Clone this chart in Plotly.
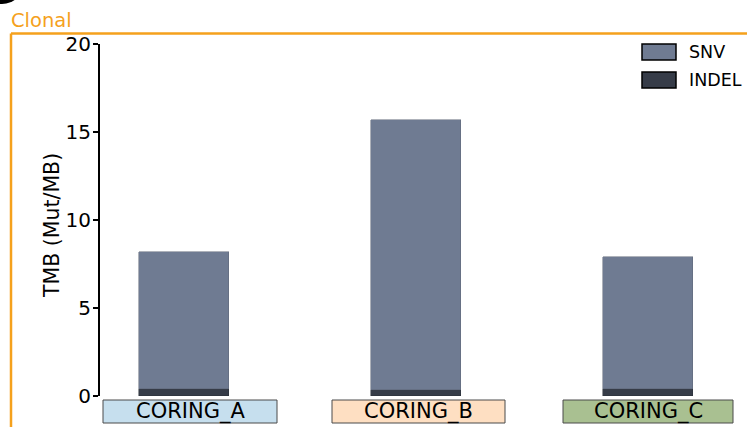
import plotly.graph_objs as go

# TMB per coring (clonal)
samples = ['CORING_A', 'CORING_B', 'CORING_C']
snv = [7.78, 15.34, 7.50]
indel = [0.40, 0.34, 0.40]
strip_colors = ['#c6dfee', '#fedfc2', '#a9c091']
y_ticks = [0, 5, 10, 15, 20]

W, H = 747, 427
SNV_COL = '#6f7b92'
INDEL_COL = '#363c48'
ORANGE = '#f5a11c'
FONT = 'DejaVu Sans'


def px(x):
    return x / W


def py(y):
    return (H - y) / H


# panel geometry in pixels (left, right), plus range shift so bars sit like the original
panels = [(100, 278, -0.028), (332, 505, -0.015), (563, 733, 0.0)]
strips = [(103, 277), (332, 505), (563, 733)]
bar_px = 90

fig = go.Figure()
layout_axes = {}
for i, (name, s, d) in enumerate(zip(samples, snv, indel)):
    ax = 'x' if i == 0 else 'x%d' % (i + 1)
    l, r, shift = panels[i]
    w = bar_px / (r - l)
    fig.add_trace(go.Bar(x=[name], y=[d], name='INDEL', xaxis=ax, yaxis='y',
                         marker=dict(color=INDEL_COL, line=dict(color='#2a2f38', width=0.5)),
                         width=w, showlegend=False))
    fig.add_trace(go.Bar(x=[name], y=[s], name='SNV', xaxis=ax, yaxis='y',
                         marker=dict(color=SNV_COL, line=dict(color='#5d6575', width=0.5)),
                         width=w, showlegend=False))
    key = 'xaxis' if i == 0 else 'xaxis%d' % (i + 1)
    layout_axes[key] = dict(domain=[px(l), px(r)], anchor='y', type='category',
                            range=[-0.5 - shift, 0.5 - shift], automargin=False,
                            showticklabels=False, showline=False, showgrid=False,
                            zeroline=False, ticks='')

shapes = []
annotations = []

# facet strips under each panel
for (l, r), name, col in zip(strips, samples, strip_colors):
    shapes.append(dict(type='rect', xref='paper', yref='paper',
                       x0=px(l), x1=px(r), y0=py(423), y1=py(400),
                       fillcolor=col, line=dict(color='#4a4a4a', width=1)))
    annotations.append(dict(xref='paper', yref='paper', x=px((l + r) / 2), y=py(411.5),
                            text=name, showarrow=False, xanchor='center', yanchor='middle',
                            font=dict(family=FONT, size=21, color='black')))

# legend drawn by hand (big outlined swatches)
for label, col, yc in [('SNV', SNV_COL, 52), ('INDEL', INDEL_COL, 80)]:
    shapes.append(dict(type='rect', xref='paper', yref='paper',
                       x0=px(642), x1=px(676), y0=py(yc + 8), y1=py(yc - 8),
                       fillcolor=col, line=dict(color='black', width=1.5)))
    annotations.append(dict(xref='paper', yref='paper', x=px(687), y=py(yc),
                            text=label, showarrow=False, xanchor='left', yanchor='middle',
                            font=dict(family=FONT, size=17.5, color='black')))

# y axis title
annotations.append(dict(xref='paper', yref='paper', x=px(52), y=py(226),
                        text='TMB (Mut/MB)', textangle=-90, showarrow=False,
                        xanchor='center', yanchor='middle',
                        font=dict(family=FONT, size=20.5, color='black')))

# orange "Clonal" frame
shapes.append(dict(type='line', xref='paper', yref='paper', x0=px(11), x1=px(760),
                   y0=py(33.5), y1=py(33.5), line=dict(color=ORANGE, width=2.5)))
shapes.append(dict(type='line', xref='paper', yref='paper', x0=px(11), x1=px(11),
                   y0=py(33.5), y1=py(440), line=dict(color=ORANGE, width=2.5)))
annotations.append(dict(xref='paper', yref='paper', x=px(9), y=py(20), text='Clonal',
                        showarrow=False, xanchor='left', yanchor='middle',
                        font=dict(family=FONT, size=19.5, color=ORANGE)))

# cropped panel badge at the top left corner
shapes.append(dict(type='circle', xref='paper', yref='paper',
                   x0=px(-20), x1=px(24), y0=py(4), y1=py(-40),
                   fillcolor='black', line=dict(color='black', width=0)))

layout_s = go.Layout(
    width=W, height=H, autosize=False,
    margin=dict(l=0, r=0, t=0, b=0, pad=0, autoexpand=False),
    paper_bgcolor='white', plot_bgcolor='white',
    barmode='stack', bargap=0,
    showlegend=False,
    font=dict(family=FONT, size=20, color='black'),
    yaxis=dict(domain=[py(396), py(44)], range=[0, 20], tickvals=y_ticks,
               automargin=False,
               showgrid=False, zeroline=False, showline=True, linecolor='black',
               linewidth=2, ticks='outside', ticklen=5, tickwidth=2, tickcolor='black',
               ticklabelstandoff=-2,
               tickfont=dict(family=FONT, size=20, color='black')),
    shapes=shapes,
    annotations=annotations,
    **layout_axes
)
fig.update_layout(layout_s)

fig.write_html("out.html", config={'displayModeBar': False},
               post_script="document.body.style.margin='0';")
